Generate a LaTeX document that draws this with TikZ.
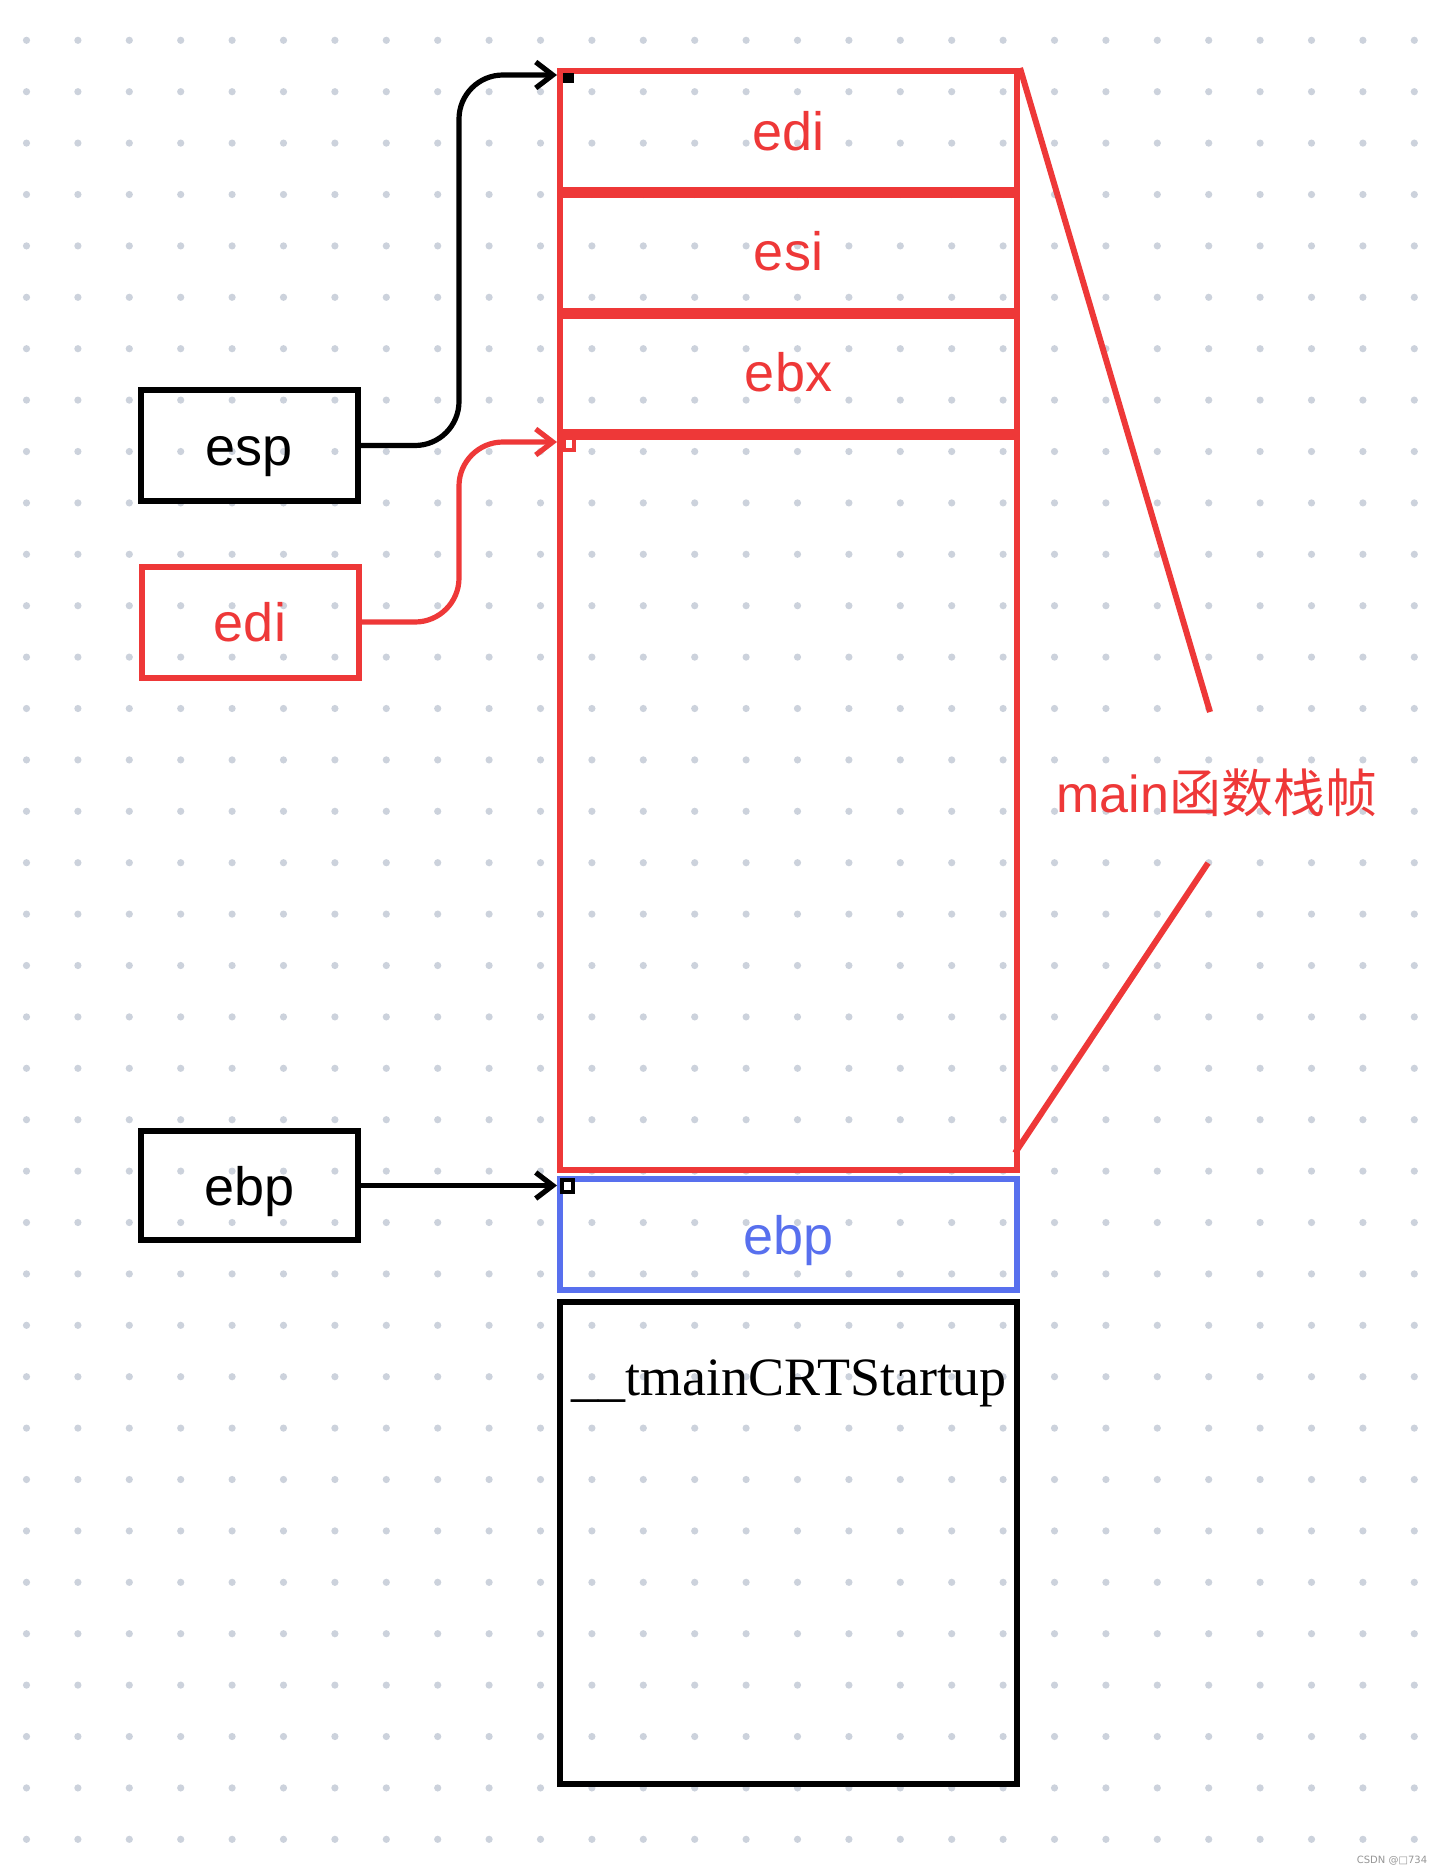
\documentclass[tikz,border=0pt]{standalone}
\usepackage{fontspec}
\newfontfamily\labfont{Liberation Sans}
\newfontfamily\cjkfont{Noto Sans CJK SC}
\newfontfamily\serfont{Liberation Serif}
\newfontfamily\wmfont{DejaVu Sans}
\usetikzlibrary{arrows.meta}
\definecolor{myred}{RGB}{238,56,56}
\definecolor{myblue}{RGB}{88,112,238}
\definecolor{dotc}{RGB}{204,210,220}
\definecolor{wmgray}{RGB}{150,150,150}
\begin{document}
\begin{tikzpicture}[x=0.5pt,y=-0.5pt,
  reg/.style={draw, line width=3pt, inner sep=0pt, text height=19.5pt, text depth=0pt, font=\labfont\fontsize{27pt}{32pt}\selectfont},
  cell/.style={reg, minimum width=228.5pt},
  conn/.style={line width=2.6pt, rounded corners=22pt, -{Straight Barb[length=8.5pt,width=13pt]}}]
\useasboundingbox (0,0) rectangle (1440,1873);
\fill[white] (0,0) rectangle (1440,1873);
% dot grid
\foreach \i in {0,...,27}{
  \foreach \j in {0,...,35}{
    \fill[dotc] (26.5+51.4*\i, 40.3+51.4*\j) circle (1.8pt);
  }
}
% left register boxes
\node[reg, minimum width=108.5pt, minimum height=55.5pt] (espbox) at (249.5,445.5) {esp};
\node[reg, draw=myred, text=myred, minimum width=108.5pt, minimum height=55.5pt] (edibox) at (250,622) {edi};
\node[reg, minimum width=108.5pt, minimum height=54.5pt] (ebpbox) at (249.5,1185.5) {ebp};
% stack column
\node[cell, draw=myred, text=myred, minimum height=59.5pt] (edicell) at (788.5,130.5) {edi};
\node[cell, draw=myred, text=myred, minimum height=60.5pt] (esicell) at (788.5,250.5) {esi};
\node[cell, draw=myred, text=myred, minimum height=60.5pt] (ebxcell) at (788.5,371.5) {ebx};
\node[cell, draw=myred, minimum height=369pt] (bigcell) at (788.5,801) {};
\draw[myred, line width=5pt] (edicell.south west) -- (edicell.south east);
\draw[myred, line width=5pt] (esicell.south west) -- (esicell.south east);
\draw[myred, line width=5pt] (ebxcell.south west) -- (ebxcell.south east);
\node[cell, draw=myblue, text=myblue, minimum height=55.5pt] (ebpcell) at (788.5,1234.5) {ebp};
\node[cell, minimum height=241pt] (crtcell) at (788.5,1543) {};
\node[anchor=base, inner sep=0pt, font=\serfont\fontsize{27pt}{32pt}\selectfont] (crtlbl) at (789,1395) {\_\_tmainCRTStartup};
% bracket lines and label
\coordinate (d1) at (1210,712);
\coordinate (d2) at (1208,863);
\coordinate (d3) at (1015,1153);
\draw[myred, line width=3pt] (edicell.north east) -- (d1);
\draw[myred, line width=3pt] (d2) -- (d3);
\node[text=myred, inner sep=0pt, font=\labfont\fontsize{26pt}{31pt}\selectfont] (mainlbl) at (1217,793) {main{\cjkfont 函数栈帧}};
% connectors
\coordinate (e1) at (459,445.5);
\coordinate (e2) at (459,75);
\coordinate (espT) at (557,75);
\draw[conn] (espbox.east) -- (e1) -- (e2) -- (espT);
\coordinate (f1) at (459,622);
\coordinate (f2) at (459,442);
\coordinate (ediT) at (557,442);
\draw[conn, myred] (edibox.east) -- (f1) -- (f2) -- (ediT);
\coordinate (ebpT) at (557,1185.5);
\draw[conn] (ebpbox.east) -- (ebpT);
% small anchor markers
\fill[black] (563,73) rectangle (574,83);
\draw[myred, line width=1.6pt] (564,437) rectangle (574,450);
\draw[black, line width=2pt, fill=white] (562,1180) rectangle (573,1192);
% watermark
\node[text=wmgray, inner sep=0pt, font=\wmfont\fontsize{5pt}{6pt}\selectfont] (wm) at (1392,1861) {CSDN @□734};
\end{tikzpicture}
\end{document}
